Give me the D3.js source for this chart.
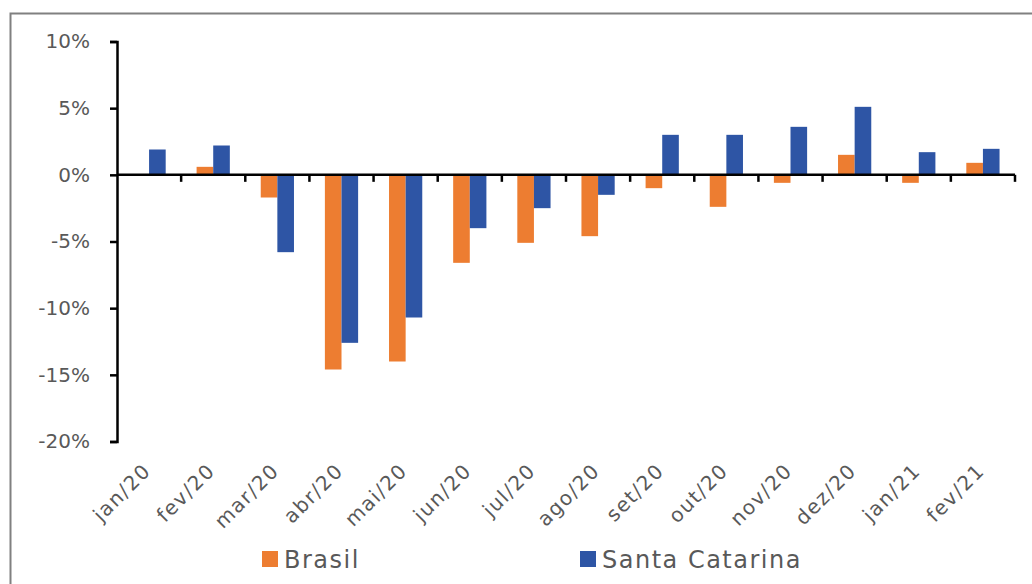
<!DOCTYPE html>
<html>
<head>
<meta charset="utf-8">
<script src="https://cdn.jsdelivr.net/npm/d3@7"></script>
<style>
  html, body { margin: 0; padding: 0; background: #fff; }
  svg { display: block; }
</style>
</head>
<body>
<div id="chart"></div>
<script>
// meses (rótulos do eixo x)
const months = ["jan/20", "fev/20", "mar/20", "abr/20", "mai/20", "jun/20", "jul/20",
  "ago/20", "set/20", "out/20", "nov/20", "dez/20", "jan/21", "fev/21"];
// variação (%)
const brasil = [0.0, 0.6, -1.7, -14.6, -14.0, -6.6, -5.1, -4.6, -1.0, -2.4, -0.6, 1.5, -0.6, 0.9];
const santaCatarina = [1.9, 2.2, -5.8, -12.6, -10.7, -4.0, -2.5, -1.5, 3.0, 3.0, 3.6, 5.1, 1.7, 1.95];
const yTicks = [10, 5, 0, -5, -10, -15, -20];
const seriesNames = ["Brasil", "Santa Catarina"];
const colors = ["#ED7D31", "#2E55A5"];

const width = 1032, height = 584;
const font = "'Century Gothic', 'DejaVu Sans', sans-serif";

const svg = d3.select("#chart").append("svg")
  .attr("width", width).attr("height", height);

// moldura
svg.append("rect")
  .attr("x", 10.5).attr("y", 13.5)
  .attr("width", 1040).attr("height", 600)
  .attr("fill", "none").attr("stroke", "#808080").attr("stroke-width", 2);

const x0 = 117, x1 = 1015;
const x = d3.scaleBand().domain(months).range([x0, x1]).paddingInner(0).paddingOuter(0);
const xs = d3.scaleBand().domain(seriesNames).range([0, x.bandwidth()]).paddingInner(0).paddingOuter(0.93);
const y = d3.scaleLinear().domain([-20, 10]).range([441.5, 41.5]);

const rows = months.map((m, i) => ({ m, vals: [brasil[i], santaCatarina[i]] }));

const groups = svg.append("g").selectAll("g")
  .data(rows).join("g")
  .attr("transform", (d) => `translate(${x(d.m)},0)`);

groups.selectAll("rect")
  .data((d) => d.vals.map((v, k) => ({ v, k })))
  .join("rect")
  .attr("x", (d) => xs(seriesNames[d.k]))
  .attr("width", xs.bandwidth())
  .attr("y", (d) => y(Math.max(0, d.v)))
  .attr("height", (d) => Math.abs(y(d.v) - y(0)))
  .attr("fill", (d) => colors[d.k]);

// eixo y
const yAxis = svg.append("g")
  .attr("transform", `translate(${x0},0)`)
  .call(d3.axisLeft(y).tickValues(yTicks).tickSize(7).tickPadding(20)
    .tickFormat((d) => d + "%"));
yAxis.select(".domain").attr("stroke", "#000").attr("stroke-width", 2.5);
yAxis.selectAll(".tick line").attr("stroke", "#000").attr("stroke-width", 2.5);
yAxis.selectAll(".tick text")
  .attr("fill", "#595959")
  .style("font-family", font)
  .style("font-size", "20px");

// eixo x (na linha do zero)
const tickPos = d3.range(months.length + 1).map((i) => x0 + i * x.step());
svg.append("line")
  .attr("x1", x0).attr("x2", x1)
  .attr("y1", y(0)).attr("y2", y(0))
  .attr("stroke", "#000").attr("stroke-width", 2.5);
svg.append("g").selectAll("line")
  .data(tickPos.slice(1)).join("line")
  .attr("x1", (d) => d).attr("x2", (d) => d)
  .attr("y1", y(0)).attr("y2", y(0) + 7)
  .attr("stroke", "#000").attr("stroke-width", 2.5);

// rótulos do eixo x
svg.append("g").selectAll("text")
  .data(months).join("text")
  .attr("transform", (d) => `translate(${x(d) + x.bandwidth() / 2 + 3},472) rotate(-45)`)
  .attr("text-anchor", "end")
  .attr("fill", "#595959")
  .style("font-family", font)
  .style("font-size", "20px")
  .style("letter-spacing", "1.5px")
  .text((d) => d);

// legenda
const legend = svg.append("g");
const legendX = [262, 580];
seriesNames.forEach((name, k) => {
  const g = legend.append("g").attr("transform", `translate(${legendX[k]},551)`);
  g.append("rect").attr("width", 16).attr("height", 16).attr("fill", colors[k]);
  g.append("text")
    .attr("x", 22).attr("y", 17)
    .attr("fill", "#595959")
    .style("font-family", font)
    .style("font-size", "24px")
    .style("letter-spacing", "1.5px")
    .text(name);
});
</script>
</body>
</html>
